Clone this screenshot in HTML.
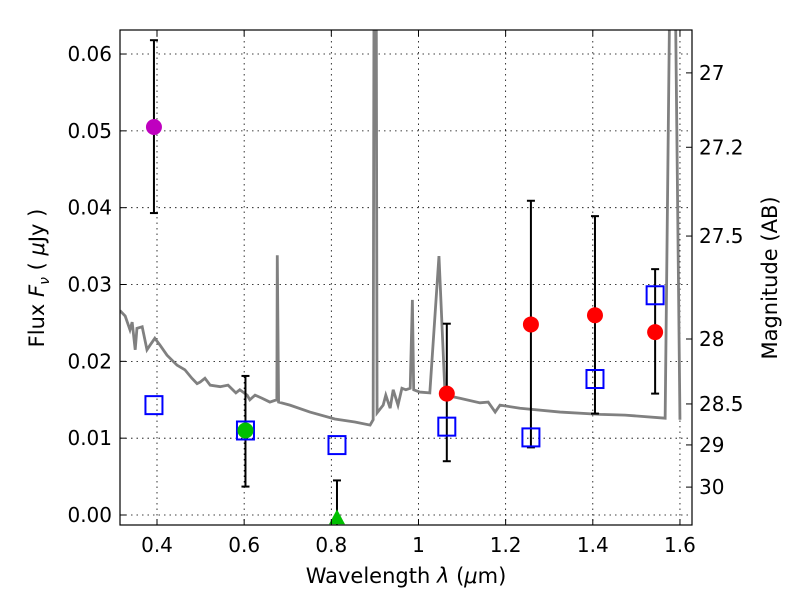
<!DOCTYPE html>
<html><head><meta charset="utf-8"><style>
body{margin:0;background:#fff}
svg text{font-family:"DejaVu Sans","Liberation Sans",sans-serif;fill:#000}
</style></head><body>
<svg id="chart" width="800" height="600" xmlns="http://www.w3.org/2000/svg">
<defs><clipPath id="clip"><rect x="120" y="30" width="572" height="495"/></clipPath></defs>
<g id="grid"></g>
<g id="spec" clip-path="url(#clip)"></g>
<g id="marks" clip-path="url(#clip)"></g>
<rect x="120" y="30" width="572" height="495" fill="none" stroke="#000" stroke-width="1.2"/>
<g id="axes"></g>
<text x="406" y="583" font-size="21" text-anchor="middle">Wavelength  <tspan font-style="italic">λ</tspan> (<tspan font-style="italic">μ</tspan>m)</text>
<text transform="translate(44,278) rotate(-90)" font-size="21" text-anchor="middle">Flux  <tspan font-style="italic">F</tspan><tspan font-style="italic" font-size="14" dy="5">ν</tspan><tspan dy="-5">  ( </tspan><tspan font-style="italic">μ</tspan>Jy )</text>
<text transform="translate(777,278) rotate(-90)" font-size="21" text-anchor="middle">Magnitude (AB)</text>
</svg>
<script>
const xTicks=[0.4,0.6,0.8,1.0,1.2,1.4,1.6];
const xTickLabels=["0.4","0.6","0.8","1","1.2","1.4","1.6"];
const yTicks=[0,0.01,0.02,0.03,0.04,0.05,0.06];
const yTickLabels=["0.00","0.01","0.02","0.03","0.04","0.05","0.06"];
const magTicks=[27,27.2,27.5,28,28.5,29,30];
const magTickLabels=["27","27.2","27.5","28","28.5","29","30"];
const specWave=[0.315,0.327,0.338,0.343,0.350,0.354,0.366,0.377,0.384,0.395,0.407,0.423,0.446,0.464,0.480,0.492,0.499,0.510,0.522,0.545,0.563,0.581,0.590,0.607,0.613,0.625,0.641,0.659,0.675,0.676,0.679,0.705,0.751,0.808,0.854,0.889,0.896,0.898,0.903,0.905,0.919,0.925,0.935,0.942,0.953,0.962,0.971,0.981,0.986,0.989,1.003,1.026,1.047,1.061,1.095,1.141,1.160,1.176,1.187,1.233,1.325,1.417,1.474,1.566,1.577,1.589,1.600];
const specFlux=[0.0266,0.0259,0.0241,0.0251,0.0215,0.0243,0.0245,0.0215,0.0221,0.0230,0.0221,0.0208,0.0195,0.0189,0.0178,0.0171,0.0173,0.0178,0.0169,0.0167,0.0169,0.0159,0.0163,0.0156,0.0150,0.0156,0.0152,0.0147,0.0150,0.0338,0.0147,0.0143,0.0134,0.0125,0.0121,0.0117,0.0124,0.07,0.07,0.0133,0.0143,0.0156,0.0139,0.0163,0.0143,0.0165,0.0163,0.0165,0.0280,0.0163,0.0160,0.0159,0.0337,0.0156,0.0152,0.0146,0.0147,0.0134,0.0143,0.0139,0.0134,0.0131,0.0130,0.0126,0.07,0.07,0.0124];
const sqWave=[0.393,0.603,0.813,1.065,1.258,1.405,1.543];
const sqFlux=[0.0143,0.0110,0.0091,0.0115,0.0101,0.0177,0.0286];
const redWave=[1.065,1.258,1.405,1.543];
const redFlux=[0.0158,0.0248,0.0260,0.0238];
const redLo=[0.0070,0.0088,0.0132,0.0158];
const redHi=[0.0249,0.0409,0.0389,0.0320];
const purpleWave=[0.393];const purpleFlux=[0.0505];const purpleLo=[0.0393];const purpleHi=[0.0618];
const greenWave=[0.603];const greenFlux=[0.0110];const greenLo=[0.0037];const greenHi=[0.0181];
const triWave=[0.813];const triFlux=[-0.0003];const triHi=[0.0045];

const X=v=>157+(v-0.4)*435.8;
const Y=v=>515-v*7683;
const NS="http://www.w3.org/2000/svg";
function mk(tag,parent,attrs){const e=document.createElementNS(NS,tag);for(const k in attrs)e.setAttribute(k,attrs[k]);parent.appendChild(e);return e;}
const grid=document.getElementById('grid'),axes=document.getElementById('axes'),spec=document.getElementById('spec'),marks=document.getElementById('marks');
xTicks.forEach((t,i)=>{
 const g=mk('line',grid,{x1:X(t),x2:X(t),y1:30,y2:525,stroke:'#000','stroke-width':0.8,'stroke-dasharray':'1.5,4'});
 
 mk('line',axes,{x1:X(t),x2:X(t),y1:525,y2:519,stroke:'#000'});
 mk('line',axes,{x1:X(t),x2:X(t),y1:30,y2:36,stroke:'#000'});
 const l=mk('text',axes,{x:X(t),y:552,'font-size':20,'text-anchor':'middle'});l.textContent=xTickLabels[i];
 
});
yTicks.forEach((t,i)=>{
 const g=mk('line',grid,{x1:120,x2:692,y1:Y(t),y2:Y(t),stroke:'#000','stroke-width':0.8,'stroke-dasharray':'1.5,4'});
 
 mk('line',axes,{x1:120,x2:126,y1:Y(t),y2:Y(t),stroke:'#000'});
 const l=mk('text',axes,{x:112,y:Y(t)+7,'font-size':20,'text-anchor':'end'});l.textContent=yTickLabels[i];
 
});
magTicks.forEach((m,i)=>{
 const y=Y(Math.pow(10,(23.9-m)/2.5));
 mk('line',axes,{x1:692,x2:686,y1:y,y2:y,stroke:'#000'});
 const l=mk('text',axes,{x:699,y:y+7,'font-size':20});l.textContent=magTickLabels[i];
 
});
const p=mk('polyline',spec,{points:specWave.map((w,i)=>X(w)+','+Y(specFlux[i])).join(' '),fill:'none',stroke:'#808080','stroke-width':2.8});

function err(x,lo,hi){
 mk('line',marks,{x1:x,x2:x,y1:Y(lo),y2:Y(hi),stroke:'#000','stroke-width':2});
 mk('line',marks,{x1:x-4,x2:x+4,y1:Y(lo),y2:Y(lo),stroke:'#000','stroke-width':2});
 mk('line',marks,{x1:x-4,x2:x+4,y1:Y(hi),y2:Y(hi),stroke:'#000','stroke-width':2});
}
purpleWave.forEach((w,i)=>{err(X(w),purpleLo[i],purpleHi[i]);const c=mk('circle',marks,{cx:X(w),cy:Y(purpleFlux[i]),r:8,fill:'#bf00bf'});});
greenWave.forEach((w,i)=>{err(X(w),greenLo[i],greenHi[i]);});
triWave.forEach((w,i)=>{err(X(w),-0.01,triHi[i]);});
redWave.forEach((w,i)=>{err(X(w),redLo[i],redHi[i]);});
sqWave.forEach((w,i)=>{const r=mk('rect',marks,{x:X(w)-8.5,y:Y(sqFlux[i])-9,width:17,height:18,fill:'none',stroke:'#0000ff','stroke-width':2});});
greenWave.forEach((w,i)=>{const c=mk('circle',marks,{cx:X(w),cy:Y(greenFlux[i]),r:8,fill:'#00c000'});});
triWave.forEach((w,i)=>{const x=X(w),y=Y(triFlux[i]);const t=mk('polygon',marks,{points:`${x},${y-8} ${x-8},${y+7} ${x+8},${y+7}`,fill:'#00c000'});});
redWave.forEach((w,i)=>{const c=mk('circle',marks,{cx:X(w),cy:Y(redFlux[i]),r:8,fill:'#ff0000'});});
</script>
</body></html>
